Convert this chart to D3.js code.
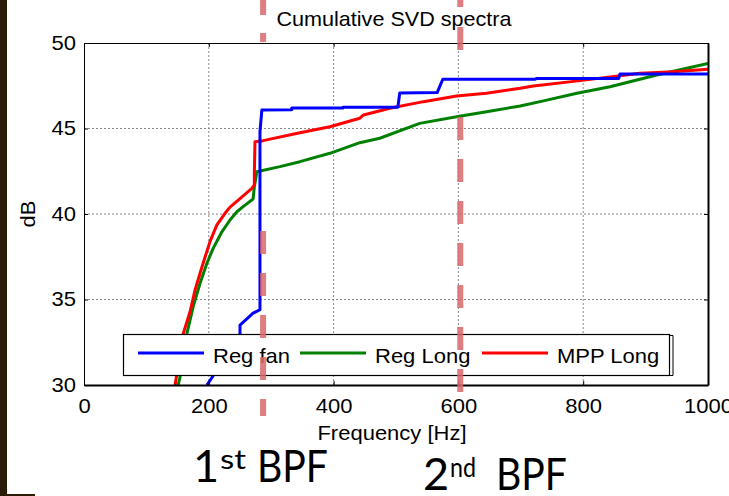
<!DOCTYPE html>
<html>
<head>
<meta charset="utf-8">
<script src="https://cdn.jsdelivr.net/npm/d3@7"></script>
<style>
  body { margin: 0; background: #fff; }
  svg { display: block; }
</style>
</head>
<body>
<svg id="chart" width="729" height="496"></svg>
<script>
// ---- data ----
var freqTicks = [0, 200, 400, 600, 800, 1000];
var dbTicks = [30, 35, 40, 45, 50];
var gridFreq = [200, 400, 600, 800];
var gridDb = [35, 40, 45];

var seriesNames = ["Reg fan", "Reg Long", "MPP Long"];
var seriesColors = ["#0000ff", "#008000", "#ff0000"];

var regFanF  = [197, 210, 250, 250, 271, 282, 282, 285, 333, 333, 415, 415, 503, 506, 566, 575, 723, 725, 857, 859, 1000];
var regFanDb = [30.0, 30.7, 33.0, 33.5, 34.2, 34.4, 44.8, 46.08, 46.1, 46.2, 46.2, 46.25, 46.25, 47.08, 47.1, 47.88, 47.88, 47.93, 47.93, 48.19, 48.19];

var regLongF  = [151, 154, 165, 175, 186, 197, 207, 221, 234, 245, 255, 271, 273, 277, 314, 346, 394, 442, 474, 538, 597, 645, 699, 731, 790, 843, 918, 966, 1000];
var regLongDb = [30.0, 30.49, 33.02, 34.58, 35.95, 37.12, 37.99, 38.96, 39.65, 40.13, 40.43, 40.88, 41.6, 42.47, 42.77, 43.06, 43.55, 44.17, 44.43, 45.3, 45.69, 45.98, 46.32, 46.57, 47.06, 47.44, 48.13, 48.52, 48.8];

var mppLongF  = [146, 159, 170, 178, 189, 202, 213, 226, 234, 250, 269, 273, 273, 274, 287, 346, 394, 442, 448, 490, 544, 597, 645, 699, 720, 795, 891, 944, 1000];
var mppLongDb = [30.0, 33.0, 34.3, 35.56, 36.9, 38.4, 39.36, 40.04, 40.4, 40.9, 41.5, 41.7, 42.4, 44.23, 44.29, 44.75, 45.1, 45.6, 45.79, 46.18, 46.57, 46.9, 47.06, 47.35, 47.49, 47.8, 48.23, 48.32, 48.46];

var bpfFreqs = [287, 603];

(function() {
  var svg = d3.select("#chart");
  var pLeft = 84, pRight = 708, pTop = 43, pBottom = 385;
  var SX = 1.1; // text in the picture is a little stretched sideways
  var FONT = "Liberation Sans, Arial, sans-serif";
  var SLIDE_FONT = "Lato, 'Open Sans', sans-serif";

  var x = d3.scaleLinear().domain([0, 1000]).range([pLeft, pRight]);
  var y = d3.scaleLinear().domain([30, 50]).range([pBottom, pTop]);

  // dark strip on the left edge of the slide
  svg.append("rect").attr("x", 0).attr("y", 0).attr("width", 7).attr("height", 496).attr("fill", "#2b1c07");
  svg.append("rect").attr("x", 7).attr("y", 494).attr("width", 28).attr("height", 2).attr("fill", "#2b1c07");

  // grid
  svg.append("g").selectAll("line").data(gridFreq).enter().append("line")
    .attr("x1", function(d) { return x(d); }).attr("x2", function(d) { return x(d); })
    .attr("y1", pTop).attr("y2", pBottom)
    .attr("stroke", "#888").attr("stroke-width", 1).attr("stroke-dasharray", "2,2");
  svg.append("g").selectAll("line").data(gridDb).enter().append("line")
    .attr("y1", function(d) { return y(d); }).attr("y2", function(d) { return y(d); })
    .attr("x1", pLeft).attr("x2", pRight)
    .attr("stroke", "#888").attr("stroke-width", 1).attr("stroke-dasharray", "2,2");

  // curves
  svg.append("clipPath").attr("id", "plotclip").append("rect")
    .attr("x", pLeft).attr("y", pTop - 2).attr("width", pRight - pLeft).attr("height", pBottom - pTop + 2);

  var series = [
    { f: regFanF, db: regFanDb },
    { f: regLongF, db: regLongDb },
    { f: mppLongF, db: mppLongDb }
  ];
  var line = d3.line()
    .x(function(d) { return x(d[0]); })
    .y(function(d) { return y(d[1]); });

  // green, red, then blue on top
  [1, 2, 0].forEach(function(i) {
    var pts = series[i].f.map(function(f, j) { return [f, series[i].db[j]]; });
    svg.append("path")
      .attr("d", line(pts))
      .attr("fill", "none")
      .attr("stroke", seriesColors[i])
      .attr("stroke-width", 3)
      .attr("stroke-linejoin", "round")
      .attr("clip-path", "url(#plotclip)");
  });

  // axes
  var xAxis = svg.append("g").attr("transform", "translate(0," + pBottom + ")")
    .call(d3.axisBottom(x).tickValues(freqTicks).tickFormat(d3.format("d")).tickSizeInner(-4).tickSizeOuter(0).tickPadding(14));
  var yAxis = svg.append("g").attr("transform", "translate(" + pLeft + ",0)")
    .call(d3.axisLeft(y).tickValues(dbTicks).tickSizeInner(-4).tickSizeOuter(0).tickPadding(8));
  var xTop = svg.append("g").attr("transform", "translate(0," + pTop + ")")
    .call(d3.axisTop(x).tickValues(freqTicks).tickSizeInner(-4).tickSizeOuter(0).tickFormat(""));
  var yRight = svg.append("g").attr("transform", "translate(" + pRight + ",0)")
    .call(d3.axisRight(y).tickValues(dbTicks).tickSizeInner(-4).tickSizeOuter(0).tickFormat(""));

  [xAxis, yAxis, xTop, yRight].forEach(function(a) {
    a.attr("font-size", 20).attr("font-family", FONT);
    a.selectAll("text").attr("fill", "#000");
    a.selectAll("line").attr("stroke", "#000");
    a.select(".domain").attr("stroke", "#000");
  });
  xAxis.select(".domain").attr("stroke-width", 2);
  yRight.select(".domain").attr("stroke-width", 2);
  xAxis.selectAll("text").attr("transform", "scale(" + SX + ",1)");
  yAxis.selectAll("text").attr("transform", "scale(" + SX + ",1)").attr("x", -8 / SX);

  // legend
  var lg = svg.append("g").attr("font-family", FONT).attr("font-size", 20);
  lg.append("rect").attr("x", 123.5).attr("y", 334.5).attr("width", 546).attr("height", 41)
    .attr("fill", "#fff").attr("stroke", "#000").attr("stroke-width", 1.2);
  lg.append("path").attr("d", "M669,335.5H673V375.5H669").attr("fill", "none").attr("stroke", "#000").attr("stroke-width", 1);
  var legX = [138, 300, 482];
  seriesNames.forEach(function(name, i) {
    lg.append("line").attr("x1", legX[i]).attr("x2", legX[i] + 66)
      .attr("y1", 353).attr("y2", 353)
      .attr("stroke", seriesColors[i]).attr("stroke-width", 3);
    lg.append("text").text(name)
      .attr("transform", "translate(" + (legX[i] + 75) + ",363) scale(" + SX + ",1)");
  });

  // titles
  svg.append("text").text("Cumulative SVD spectra")
    .attr("font-family", FONT).attr("font-size", 20).attr("text-anchor", "middle")
    .attr("transform", "translate(394,26) scale(1.08,1)");
  svg.append("text").text("Frequency [Hz]")
    .attr("font-family", FONT).attr("font-size", 20).attr("text-anchor", "middle")
    .attr("transform", "translate(392,440) scale(" + SX + ",1)");
  svg.append("text").text("dB")
    .attr("font-family", FONT).attr("font-size", 20).attr("text-anchor", "middle")
    .attr("transform", "translate(35,214) rotate(-90) scale(" + SX + ",1)");

  // blade pass frequency markers (dashed, partly hidden as in the slide)
  var bpfVisible = [
    [[0, 15], [33, 42], [231, 416]],
    [[0, 7], [27, 50], [117, 400]]
  ];
  bpfFreqs.forEach(function(f, i) {
    bpfVisible[i].forEach(function(r) {
      svg.append("line")
        .attr("x1", x(f)).attr("x2", x(f))
        .attr("y1", r[0]).attr("y2", r[1])
        .attr("stroke", "#d9676b").attr("stroke-opacity", 0.85)
        .attr("stroke-width", 6)
        .attr("stroke-dasharray", r[1] - r[0] > 40 ? "23,19" : null);
    });
  });

  // slide labels under the chart
  var bpfLabels = [
    { base: "1", sup: "st", bx: 193, sx: 220, px: 257, y: 482 },
    { base: "2", sup: "nd", bx: 423, sx: 450, px: 496, y: 490 }
  ];
  bpfLabels.forEach(function(b) {
    var g = svg.append("g").attr("font-family", SLIDE_FONT).attr("fill", "#000");
    g.append("text").text(b.base).attr("x", b.bx).attr("y", b.y).attr("font-size", 45);
    g.append("text").text(b.sup).attr("x", b.sx).attr("y", b.y - 13).attr("font-size", 26)
      .attr("textLength", 26).attr("lengthAdjust", "spacingAndGlyphs");
    g.append("text").text("BPF").attr("x", b.px).attr("y", b.y).attr("font-size", 45)
      .attr("textLength", 71).attr("lengthAdjust", "spacingAndGlyphs");
  });
})();
</script>
</body>
</html>
